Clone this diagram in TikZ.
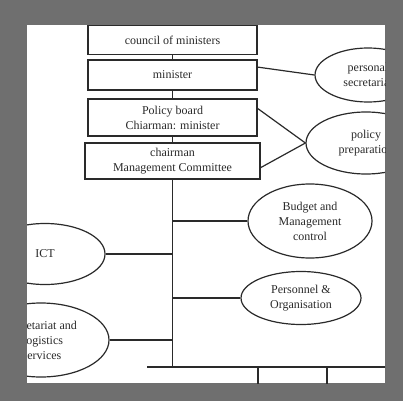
\documentclass[tikz,border=0pt]{standalone}
\usepackage{fontspec}
\setmainfont{Liberation Serif}
\usetikzlibrary{shapes.geometric}
\definecolor{frame}{HTML}{6F6F6F}
\definecolor{ink}{HTML}{2A2A2A}
\begin{document}
\begin{tikzpicture}[x=1pt,y=-1pt,
  box/.style={draw=ink,line width=1.2pt,rectangle,inner sep=0pt,align=center,font=\fontsize{12}{15}\selectfont,text=ink},
  oval/.style={draw=ink,line width=1.2pt,ellipse,inner sep=0pt,align=center,font=\fontsize{12}{15}\selectfont,text=ink},
  link/.style={draw=ink,line width=1.2pt}]
\useasboundingbox (0,0) rectangle (403,401);
\fill[frame] (0,0) rectangle (403,401);
\fill[white] (27,25) rectangle (385,383);
\begin{scope}
\clip (27,25) rectangle (385,383);
% boxes
\node[box,minimum width=169pt,minimum height=29pt] (council) at (172.5,40) {council of ministers};
\node[box,minimum width=169pt,minimum height=30pt] (minister) at (172.5,75) {minister};
\node[box,minimum width=169pt,minimum height=37pt] (policy) at (172.5,117.5) {Policy board\\Chiarman: minister};
\node[box,minimum width=175pt,minimum height=36pt] (chair) at (172.5,161) {chairman\\Management Committee};
% ellipses
\node[oval,minimum width=106pt,minimum height=54pt] (pers) at (368,75) {personal\\secretariat};
\node[oval,minimum width=120pt,minimum height=62pt] (prep) at (366,143) {policy\\preparation};
\node[oval,minimum width=124pt,minimum height=74pt] (budget) at (310,221) {Budget and\\Management\\control};
\node[oval,minimum width=120pt,minimum height=61pt] (ict) at (45,254) {ICT};
\node[oval,minimum width=120pt,minimum height=53pt] (pno) at (301,298) {Personnel \&\\Organisation};
\node[oval,minimum width=136pt,minimum height=74pt] (sls) at (41,340) {Secretariat and\\Logistics\\Services};
% trunk
\coordinate (tb) at (172.5,367);
\coordinate (bl) at (147,367);
\coordinate (br) at (403,367);
\coordinate (d1) at (258,367);
\coordinate (d2) at (327,367);
\coordinate (d1e) at (258,401);
\coordinate (d2e) at (327,401);
\coordinate (mr) at (257,67);
\coordinate (pr) at (257,108);
\coordinate (cr) at (260,168);
\draw[link] (council.south) -- (minister.north);
\draw[link] (minister.south) -- (policy.north);
\draw[link] (policy.south) -- (chair.north);
\draw[link] (chair.south) -- (tb);
\draw[link] (bl) -- (br);
\draw[link] (d1) -- (d1e);
\draw[link] (d2) -- (d2e);
% side links
\draw[link] (mr) -- (pers.west);
\draw[link] (pr) -- (prep.west);
\draw[link] (cr) -- (prep.west);
\draw[link] (budget.west) -- (budget.west -| tb);
\draw[link] (ict.east) -- (ict.east -| tb);
\draw[link] (pno.west) -- (pno.west -| tb);
\draw[link] (sls.east) -- (sls.east -| tb);
\end{scope}
\end{tikzpicture}
\end{document}
